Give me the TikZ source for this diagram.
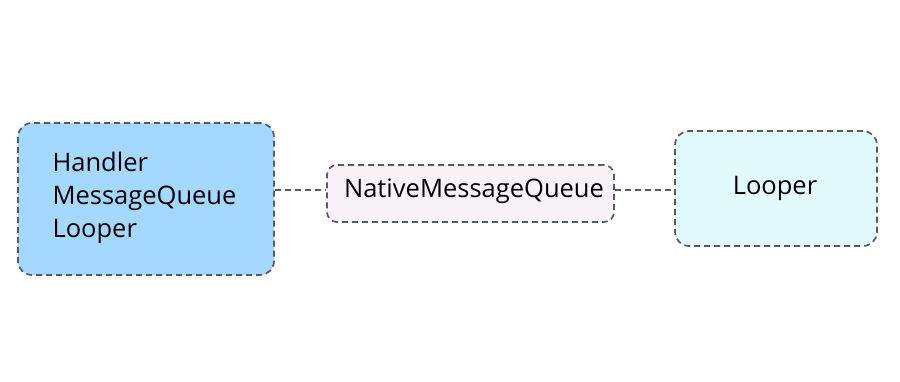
\documentclass[tikz,border=0pt]{standalone}
\usepackage{fontspec}
\setmainfont{Open Sans}
\definecolor{edgegray}{HTML}{555B61}
\definecolor{bluefill}{HTML}{A5D8FF}
\definecolor{lilacfill}{HTML}{F8F1F8}
\definecolor{cyanfill}{HTML}{E3FAFC}
\begin{document}
\begin{tikzpicture}[x=1pt,y=-1pt,
  card/.style={draw=edgegray, line width=1.7pt, dash pattern=on 6pt off 4pt,
               rounded corners=14pt, inner sep=0pt},
  link/.style={draw=edgegray, line width=1.6pt, dash pattern=on 6pt off 4pt},
  lbl/.style={font=\fontsize{25.5}{33}\selectfont, text=black}]
  \useasboundingbox (0,0) rectangle (900,381);
  \fill[white] (0,0) rectangle (900,381);
  % boxes
  \node[card, fill=bluefill, minimum width=256pt, minimum height=152pt] (core) at (146,199) {};
  \node[card, fill=lilacfill, minimum width=287pt, minimum height=57pt, rounded corners=10pt] (nmq) at (470.5,193.5) {};
  \node[card, fill=cyanfill, minimum width=202pt, minimum height=115pt] (loop) at (776,188.5) {};
  % texts
  \node[lbl, anchor=west, align=left] (coretxt) at (49,198) {Handler\\MessageQueue\\Looper};
  \node[lbl] (nmqtxt) at (474,191) {NativeMessageQueue};
  \node[lbl] (looptxt) at (775,188) {Looper};
  % connectors
  \draw[link] (core.east |- 0,190) -- (nmq.west |- 0,190);
  \draw[link] (nmq.east |- 0,190) -- (loop.west |- 0,190);
\end{tikzpicture}
\end{document}
